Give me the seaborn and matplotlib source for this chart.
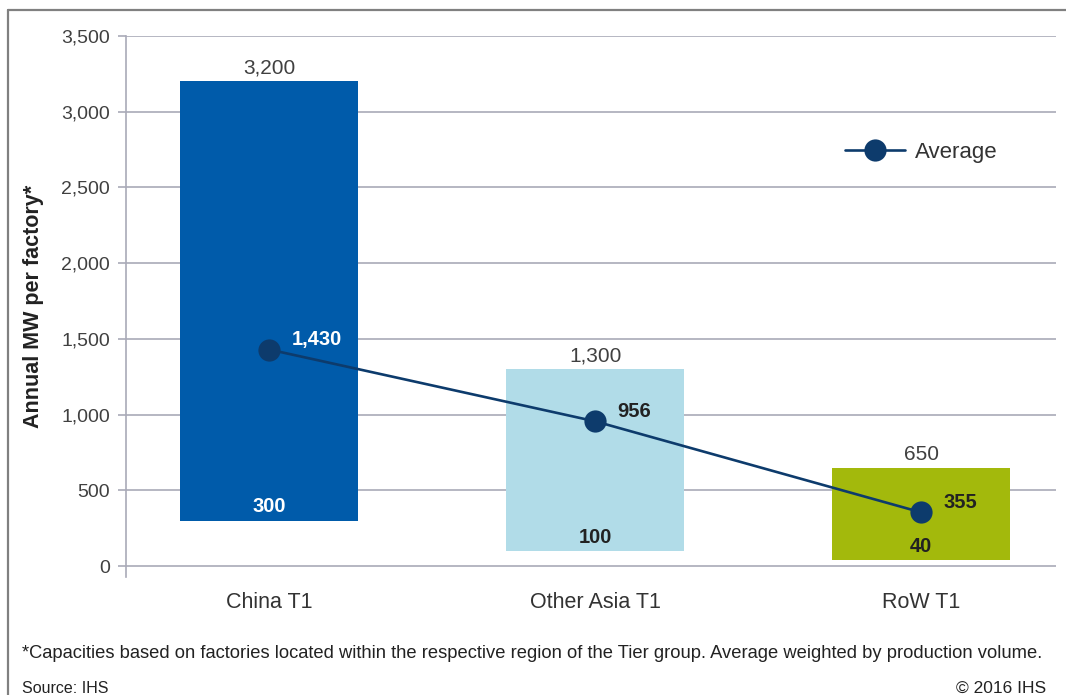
import matplotlib
matplotlib.use("Agg")
import matplotlib.pyplot as plt
from matplotlib.lines import Line2D
import numpy as np
import pandas as pd
import seaborn as sns

regions = ["China T1", "Other Asia T1", "RoW T1"]
low = [300, 100, 40]
high = [3200, 1300, 650]
avg = [1430, 956, 355]
low_text = ["300", "100", "40"]
high_text = ["3,200", "1,300", "650"]
avg_text = ["1,430", "956", "355"]
bar_colors = ["#005BAA", "#B1DCE8", "#A3B90C"]
low_colors = ["white", "#222222", "#222222"]
avg_colors = ["white", "#222222", "#222222"]
yticks = [0, 500, 1000, 1500, 2000, 2500, 3000, 3500]
ytick_labels = ["0", "500", "1,000", "1,500", "2,000", "2,500", "3,000", "3,500"]

sns.set_theme(style="white")
plt.rcParams["font.family"] = ["Liberation Sans", "DejaVu Sans"]

df = pd.DataFrame({"region": regions, "low": low, "high": high, "avg": avg})

fig = plt.figure(figsize=(10.66, 6.95), dpi=100)
ax = fig.add_axes([0.1182, 0.1698, 0.8724, 0.7784])

sns.barplot(data=df, x="region", y="high", hue="region", palette=bar_colors,
            width=0.546, legend=False, saturation=1, ax=ax, zorder=2)
# make the bars float from low to high
for p, lo, hi in zip(ax.patches, low, high):
    p.set_y(lo)
    p.set_height(hi - lo)
    p.set_edgecolor("none")

pos = np.arange(len(regions))
sns.lineplot(x=pos, y=avg, sort=False, color="#0D3B6C", linewidth=1.9,
             marker="o", markersize=16, markeredgewidth=0, label="Average",
             ax=ax, zorder=4)

for i in range(len(regions)):
    ax.annotate(high_text[i], (pos[i], high[i]), xytext=(0, 2.5), textcoords="offset points",
                ha="center", va="bottom", fontsize=15, color="#404040")
    ax.annotate(low_text[i], (pos[i], low[i]), xytext=(0, 10), textcoords="offset points",
                ha="center", va="center", fontsize=14.5, fontweight="bold", color=low_colors[i])
    ax.annotate(avg_text[i], (pos[i], avg[i]), xytext=(16, 7), textcoords="offset points",
                ha="left", va="center", fontsize=14.5, fontweight="bold", color=avg_colors[i],
                zorder=5)

ax.set_xlim(-0.439, 2.414)
ax.set_ylim(-72, 3500)
ax.set_yticks(yticks)
ax.set_yticklabels(ytick_labels)
ax.grid(axis="y", color="#A9AAB8", linewidth=1.2, zorder=0)
ax.set_axisbelow(True)
for s in ["top", "right", "bottom"]:
    ax.spines[s].set_visible(False)
ax.spines["left"].set_color("#A9AAB8")
ax.spines["left"].set_linewidth(1.2)
ax.tick_params(axis="y", left=True, length=6, width=1.2, color="#A9AAB8",
               pad=5.5, labelsize=14, labelcolor="#404040")
ax.tick_params(axis="x", bottom=False, pad=5, labelsize=15.5, labelcolor="#333333")
ax.set_xlabel("")
ax.set_ylabel("Annual MW per factory*", fontsize=15.5, fontweight="bold", color="#222222")
ax.yaxis.set_label_coords(-0.088, 0.5)

leg = ax.legend(loc="center left", bbox_to_anchor=(0.752, 0.785), frameon=False,
                fontsize=16, handlelength=2.7, handletextpad=0.45, labelcolor="#333333")

fig.text(0.021, 0.059, "*Capacities based on factories located within the respective region "
         "of the Tier group. Average weighted by production volume.",
         fontsize=13.2, color="#222222", va="center", ha="left")
fig.text(0.021, 0.01, "Source: IHS", fontsize=11.5, color="#222222", va="center", ha="left")
fig.text(0.981, 0.01, "\u00a9 2016 IHS", fontsize=12.5, color="#222222", va="center", ha="right")

fig.add_artist(Line2D([0.0075, 0.0075], [0.0, 0.9856], transform=fig.transFigure,
                      color="#808080", linewidth=1.6))
fig.add_artist(Line2D([0.0075, 1.0], [0.9856, 0.9856], transform=fig.transFigure,
                      color="#808080", linewidth=1.6))

fig.savefig("out.png", dpi=100)
